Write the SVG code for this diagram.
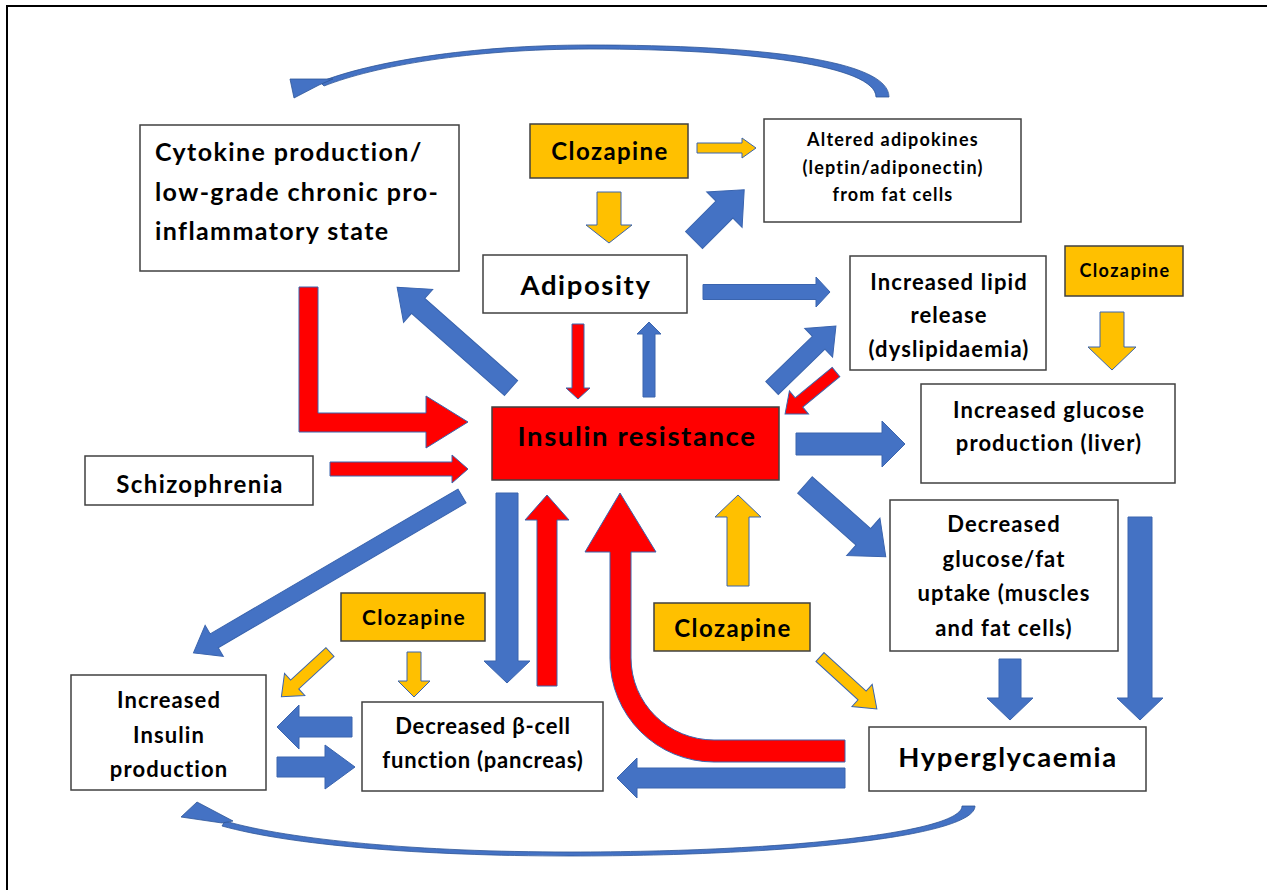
<svg xmlns="http://www.w3.org/2000/svg" width="1267" height="890" viewBox="0 0 1267 890">
<style>
.box{fill:#fff;stroke:#404040;stroke-width:1.5}
.drug{fill:#FFC000;stroke:#404040;stroke-width:1.5}
.ir{fill:#FF0000;stroke:#404040;stroke-width:1.5}
.t{font-family:Lato,"Liberation Sans",sans-serif;font-weight:bold;fill:#000}
.c{text-anchor:middle}
.big{font-size:27.5px;letter-spacing:1.6px}
.med{font-size:22px;letter-spacing:1.1px}
.b{fill:#4472C4;stroke:#3A64AE;stroke-width:1}
.r{fill:#FF0000;stroke:#3A64AE;stroke-width:1}
.o{fill:#FFC000;stroke:#3A64AE;stroke-width:1}
.cb{fill:#4472C4;stroke:#2F5597;stroke-width:0.8}
</style>
<rect x="0" y="0" width="1267" height="890" fill="#fff"/>
<rect x="7" y="6" width="1300" height="920" fill="none" stroke="#000" stroke-width="2"/>

<g id="connectors">
  <!-- top curved arrow -->
  <path class="cb" d="M 889,97 C 889,60 760,45 590,45 C 470,45 370,62 320,82 L 324,86 C 375,66 470,49 590,49 C 750,49 876,66 876,97 Z"/>
  <polygon class="cb" points="290,79 333,79 319,85 294,98"/>
  <!-- bottom curved arrow -->
  <path class="cb" d="M 975,806 C 975,835 800,856 570,856 C 420,856 290,845 222,826 L 225,821 C 290,840 420,852 570,852 C 790,852 962,832 962,806 Z"/>
  <polygon class="cb" points="181,817 197,802 233,821 222,823"/>

  <polygon class="o" transform="translate(697,148)" points="0,-5 45,-5 45,-10 59,0 45,10 45,5 0,5"/>
  <polygon class="o" transform="translate(609,192) rotate(90)" points="0,-12 33,-12 33,-23 51,0 33,23 33,12 0,12"/>
  <polygon class="b" transform="translate(694,240) rotate(-45)" points="0,-12 43,-12 43,-25 71,0 43,25 43,12 0,12"/>
  <polygon class="b" transform="translate(703,292)" points="0,-7.5 113,-7.5 113,-15 127,0 113,15 113,7.5 0,7.5"/>
  <polygon class="b" transform="translate(511,388) rotate(221.5)" points="0,-10 124,-10 124,-22 152,0 124,22 124,10 0,10"/>
  <polygon class="r" points="299,287 318,287 318,413 426,413 426,396 468,422 426,448 426,432 299,432"/>
  <polygon class="r" transform="translate(330,469)" points="0,-7 122,-7 122,-14 138,0 122,14 122,7 0,7"/>
  <polygon class="r" transform="translate(578,324) rotate(90)" points="0,-6 64,-6 64,-12 75,0 64,12 64,6 0,6"/>
  <polygon class="b" transform="translate(649,397) rotate(-90)" points="0,-6 63,-6 63,-12 75,0 63,12 63,6 0,6"/>
  <polygon class="b" transform="translate(772,388) rotate(-44.1)" points="0,-9 65,-9 65,-20 89,0 65,20 65,9 0,9"/>
  <polygon class="r" transform="translate(836,372) rotate(140.5)" points="0,-6 48,-6 48,-15 66,0 48,15 48,6 0,6"/>
  <polygon class="b" transform="translate(796,444)" points="0,-11 86,-11 86,-23 109,0 86,23 86,11 0,11"/>
  <polygon class="b" transform="translate(805,485) rotate(41.6)" points="0,-11 78,-11 78,-25 108,0 78,25 78,11 0,11"/>
  <polygon class="o" transform="translate(1112,312) rotate(90)" points="0,-12 35,-12 35,-24 58,0 35,24 35,12 0,12"/>
  <polygon class="b" transform="translate(1010,659) rotate(90)" points="0,-11 39,-11 39,-23 61,0 39,23 39,11 0,11"/>
  <polygon class="b" transform="translate(1140,517) rotate(90)" points="0,-12 181,-12 181,-23 203,0 181,23 181,12 0,12"/>
  <polygon class="o" transform="translate(738,586) rotate(-90)" points="0,-11 69,-11 69,-23 91,0 69,23 69,11 0,11"/>
  <polygon class="o" transform="translate(820,657) rotate(42.4)" points="0,-6 57,-6 57,-15 77,0 57,15 57,6 0,6"/>
  <path class="r" d="M 845,762 L 714,762 A 104,104 0 0 1 610,658 L 610,552 L 585,552 L 620,493 L 656,552 L 631,552 L 631,658 A 83,82 0 0 0 714,740 L 845,740 Z"/>
  <polygon class="b" transform="translate(845,778) rotate(180)" points="0,-10 208,-10 208,-20 228,0 208,20 208,10 0,10"/>
  <polygon class="b" transform="translate(507,493) rotate(90)" points="0,-11 168,-11 168,-23 190,0 168,23 168,11 0,11"/>
  <polygon class="r" transform="translate(547,686) rotate(-90)" points="0,-10 166,-10 166,-22 191,0 166,22 166,10 0,10"/>
  <polygon class="b" transform="translate(462,496) rotate(149.7)" points="0,-8 287,-8 287,-18 311,0 287,18 287,8 0,8"/>
  <polygon class="o" transform="translate(330,652) rotate(137.4)" points="0,-6 48,-6 48,-15 66,0 48,15 48,6 0,6"/>
  <polygon class="o" transform="translate(414,652) rotate(90)" points="0,-7 29,-7 29,-16 45,0 29,16 29,7 0,7"/>
  <polygon class="b" transform="translate(352,727) rotate(180)" points="0,-10 53,-10 53,-22 75,0 53,22 53,10 0,10"/>
  <polygon class="b" transform="translate(277,767)" points="0,-10 48,-10 48,-22 78,0 48,22 48,10 0,10"/>
</g>

<g id="cytokine">
  <rect class="box" x="140" y="125" width="319" height="146"/>
  <text class="t" font-size="25" letter-spacing="1.4"><tspan x="155" y="161">Cytokine production/</tspan><tspan x="155" y="201">low-grade chronic pro-</tspan><tspan x="155" y="240">inflammatory state</tspan></text>
</g>
<g id="clozapine-top">
  <rect class="drug" x="530" y="124" width="158" height="54"/>
  <text class="t c" font-size="24" letter-spacing="1.4" x="610" y="160">Clozapine</text>
</g>
<g id="adipokines">
  <rect class="box" x="764" y="119" width="257" height="103"/>
  <text class="t c" font-size="18" letter-spacing="1.2"><tspan x="893" y="146">Altered adipokines</tspan><tspan x="893" y="174">(leptin/adiponectin)</tspan><tspan x="893" y="201">from fat cells</tspan></text>
</g>
<g id="adiposity">
  <rect class="box" x="483" y="255" width="204" height="58"/>
  <text class="t c big" x="586" y="295">Adiposity</text>
</g>
<g id="lipid">
  <rect class="box" x="850" y="256" width="196" height="114"/>
  <text class="t c med"><tspan x="949" y="290">Increased lipid</tspan><tspan x="949" y="323">release</tspan><tspan x="949" y="357">(dyslipidaemia)</tspan></text>
</g>
<g id="clozapine-right">
  <rect class="drug" x="1065" y="246" width="118" height="50"/>
  <text class="t c" font-size="18" letter-spacing="1.4" x="1125" y="277">Clozapine</text>
</g>
<g id="insulin-resistance">
  <rect class="ir" x="492" y="407" width="287" height="73"/>
  <text class="t c big" x="637" y="446">Insulin resistance</text>
</g>
<g id="glucose-production">
  <rect class="box" x="921" y="384" width="254" height="99"/>
  <text class="t c med"><tspan x="1049" y="418">Increased glucose</tspan><tspan x="1049" y="451">production (liver)</tspan></text>
</g>
<g id="schizophrenia">
  <rect class="box" x="85" y="456" width="228" height="49"/>
  <text class="t c" font-size="24" letter-spacing="1.4" x="200" y="493">Schizophrenia</text>
</g>
<g id="uptake">
  <rect class="box" x="890" y="500" width="228" height="151"/>
  <text class="t c med"><tspan x="1004" y="532">Decreased</tspan><tspan x="1004" y="567">glucose/fat</tspan><tspan x="1004" y="601">uptake (muscles</tspan><tspan x="1004" y="636">and fat cells)</tspan></text>
</g>
<g id="clozapine-midleft">
  <rect class="drug" x="341" y="593" width="144" height="48"/>
  <text class="t c" font-size="21" letter-spacing="1.4" x="414" y="625">Clozapine</text>
</g>
<g id="clozapine-center">
  <rect class="drug" x="654" y="603" width="156" height="48"/>
  <text class="t c" font-size="24" letter-spacing="1.4" x="733" y="637">Clozapine</text>
</g>
<g id="insulin-production">
  <rect class="box" x="71" y="675" width="195" height="115"/>
  <text class="t c med"><tspan x="169" y="708">Increased</tspan><tspan x="169" y="743">Insulin</tspan><tspan x="169" y="777">production</tspan></text>
</g>
<g id="beta-cell">
  <rect class="box" x="362" y="702" width="241" height="89"/>
  <text class="t c" font-size="22" letter-spacing="0.8"><tspan x="483" y="734">Decreased β-cell</tspan><tspan x="483" y="768">function (pancreas)</tspan></text>
</g>
<g id="hyperglycaemia">
  <rect class="box" x="869" y="727" width="277" height="64"/>
  <text class="t c big" x="1008" y="767">Hyperglycaemia</text>
</g>
</svg>
